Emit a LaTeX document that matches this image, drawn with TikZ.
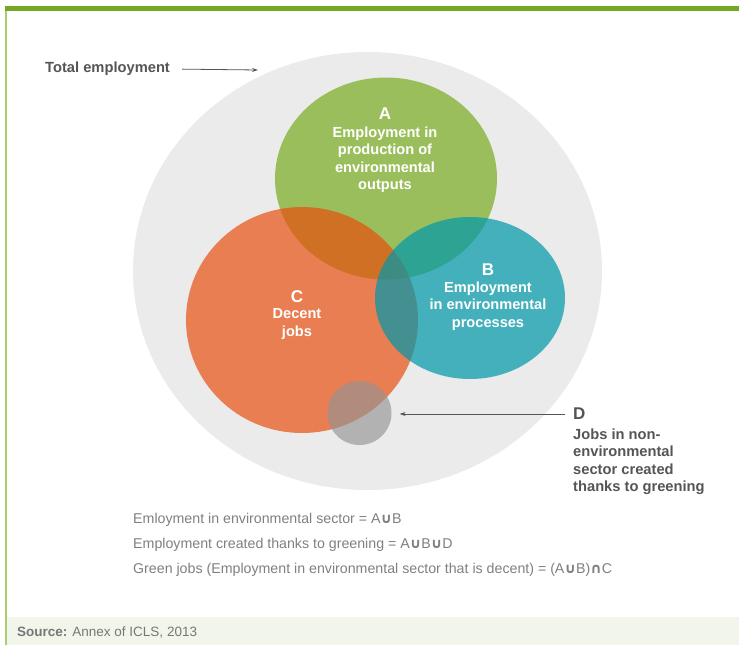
\documentclass[tikz,border=0pt]{standalone}
\usepackage{fontspec}
\setmainfont{Liberation Sans}
\newfontfamily\symfont{DejaVu Sans}
\usetikzlibrary{shapes.geometric,arrows.meta}
\definecolor{framegreen}{RGB}{116,168,36}
\definecolor{edgegreen}{RGB}{170,206,110}
\definecolor{totalgrey}{RGB}{235,235,235}
\definecolor{agreen}{RGB}{155,190,93}
\definecolor{corange}{RGB}{232,78,13}
\definecolor{bteal}{RGB}{1,152,170}
\definecolor{dgrey}{RGB}{147,147,147}
\definecolor{notegrey}{RGB}{128,128,128}
\definecolor{labelgrey}{RGB}{85,85,85}
\definecolor{footbg}{RGB}{242,245,234}
\newcommand{\setor}{{\symfont\bfseries ∪}}
\newcommand{\setand}{{\symfont\bfseries ∩}}

\begin{document}
\begin{tikzpicture}[x=1pt,y=-1pt,
    set/.style={ellipse,inner sep=0pt},
    settext/.style={text=white,font=\fontsize{14.6}{17.5}\selectfont\bfseries,align=center},
    setletter/.style={text=white,font=\fontsize{17}{18}\selectfont\bfseries},
    greylabel/.style={anchor=west,inner sep=0pt,text=labelgrey},
    note/.style={text=notegrey,font=\fontsize{14.2}{16}\selectfont,anchor=west,inner sep=0pt},
    pointer/.style={-{Stealth[length=6pt,width=4pt]},draw=labelgrey,line width=.8pt}]

    \useasboundingbox (0,0) rectangle (739,645);

    % the frame
    \fill[white] (0,0) rectangle (739,645);
    \fill[footbg] (5,617) rectangle (739,645);
    \fill[edgegreen] (5,6) rectangle (7,645);
    \fill[framegreen] (5,6) rectangle (739,11);

    % the sets
    \node[set,fill=totalgrey,minimum width=469pt,minimum height=438pt] (total) at (367.5,271) {};
    \node[set,fill=agreen,minimum width=222pt,minimum height=202pt] (a) at (386,178.5) {};
    \node[set,fill=corange,fill opacity=.69,minimum width=232pt,minimum height=226pt] (c) at (302,320) {};
    \node[set,fill=bteal,fill opacity=.71,minimum width=190pt,minimum height=162pt] (b) at (470,298) {};
    \node[set,circle,fill=dgrey,fill opacity=.64,minimum size=64pt] (d) at (359.5,413) {};

    % the texts
    \node[setletter] (a-name) at (385,114) {A};
    \node[settext] (a-text) at (385,159.5) {Employment in\\production of\\environmental\\outputs};
    \node[setletter] (b-name) at (488,270) {B};
    \node[settext] (b-text) at (488,306) {Employment\\in environmental\\processes};
    \node[setletter] (c-name) at (297,297) {C};
    \node[settext] (c-text) at (297,324) {Decent\\jobs};

    \node[greylabel,font=\fontsize{17}{18}\selectfont\bfseries] (d-name) at (573,414) {D};
    \node[greylabel,align=left,font=\fontsize{14.7}{17.5}\selectfont\bfseries] (d-text) at (573,461.5)
      {Jobs in non-\\environmental\\sector created\\thanks to greening};

    \node[greylabel,font=\fontsize{14.7}{17}\selectfont\bfseries] (total-lbl) at (45,69) {Total employment};
    \coordinate (total-tip) at (258,70);

    \draw[pointer,shorten <=12pt] (total-lbl.east) -- (total-tip);
    \draw[pointer,shorten <=8pt,shorten >=8pt] (d-name.west) -- (d.east |- d-name.west);

    % the formulas
    \node[note] (sector) at (133,520) {Emloyment in environmental sector = A\setor B};
    \node[note] (greening) at (133,545) {Employment created thanks to greening = A\setor B\setor D};
    \node[note] (green-jobs) at (133,570) {Green jobs (Employment in environmental sector that is decent) = (A\setor B)\setand C};

    \node[greylabel,text=labelgrey!80,font=\fontsize{13.5}{15}\selectfont]
      (source) at (17,632) {\textbf{Source:} Annex of ICLS, 2013};
\end{tikzpicture}
\end{document}
